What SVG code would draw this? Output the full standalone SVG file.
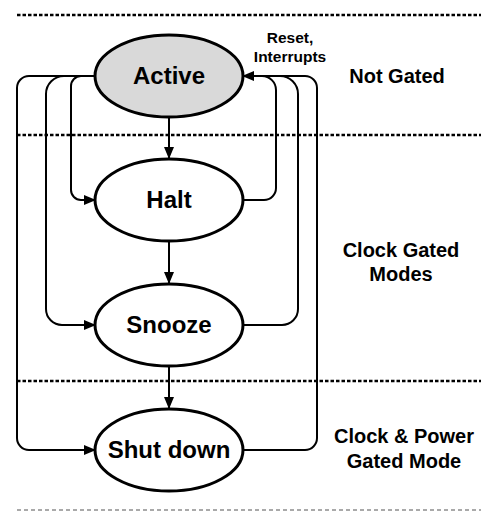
<svg xmlns="http://www.w3.org/2000/svg" width="481" height="513" viewBox="0 0 481 513">
  <style>
    .state { stroke: #000; stroke-width: 3; fill: #fff; }
    .state.active { fill: #d9d9d9; }
    .label { font-family: "Liberation Sans", Arial, sans-serif; font-weight: bold; fill: #000; text-anchor: middle; }
    .name { font-size: 24px; }
    .zone { font-size: 20px; }
    .note { font-size: 15.5px; }
    .wire { fill: none; stroke: #000; stroke-width: 2; }
    .sep { stroke: #000; stroke-width: 2.5; stroke-dasharray: 3.5 2; }
    .sep.end { stroke: #555; stroke-width: 1.2; stroke-dasharray: 4 3; }
  </style>
  <defs>
    <marker id="arrow" markerUnits="userSpaceOnUse" markerWidth="12" markerHeight="12" viewBox="0 0 12 12" refX="11" refY="6" orient="auto">
      <path d="M0,1 L12,6 L0,11 Z" fill="#000"/>
    </marker>
  </defs>

  <!-- zone separators -->
  <g id="separators">
    <line class="sep" x1="17" y1="15" x2="481" y2="15"/>
    <line class="sep" x1="17" y1="135" x2="481" y2="135"/>
    <line class="sep" x1="17" y1="381" x2="481" y2="381"/>
    <line class="sep end" x1="17" y1="510" x2="481" y2="510"/>
  </g>

  <!-- transitions -->
  <g id="connectors">
    <!-- Active -> lower states (left side) -->
    <path class="wire" d="M95,76 H29 A12,12 0 0 0 17,88 V438 A12,12 0 0 0 29,450 H95" marker-end="url(#arrow)"/>
    <path class="wire" d="M95,76 H64 A18,18 0 0 0 46,94 V309 A16,16 0 0 0 62,325 H95" marker-end="url(#arrow)"/>
    <path class="wire" d="M95,76 H81 A10,10 0 0 0 71,86 V190 A10,10 0 0 0 81,200 H95" marker-end="url(#arrow)"/>
    <!-- wake-up paths back to Active (right side) -->
    <path class="wire" d="M243,450 H305 A12,12 0 0 0 317,438 V88 A12,12 0 0 0 305,76 H255"/>
    <path class="wire" d="M243,325 H282 A16,16 0 0 0 298,309 V94 A18,18 0 0 0 280,76 H255"/>
    <path class="wire" d="M243,200 H264 A12,12 0 0 0 276,188 V90 A14,14 0 0 0 262,76 H243" marker-end="url(#arrow)"/>
    <!-- downward chain -->
    <line class="wire" x1="169" y1="117" x2="169" y2="158" marker-end="url(#arrow)"/>
    <line class="wire" x1="169" y1="241" x2="169" y2="283" marker-end="url(#arrow)"/>
    <line class="wire" x1="169" y1="366" x2="169" y2="408" marker-end="url(#arrow)"/>
  </g>

  <g id="active">
    <ellipse class="state active" cx="169" cy="76" rx="74" ry="41"/>
    <text class="label name" x="169" y="84">Active</text>
  </g>
  <g id="halt">
    <ellipse class="state" cx="169" cy="200" rx="74" ry="41"/>
    <text class="label name" x="169" y="208">Halt</text>
  </g>
  <g id="snooze">
    <ellipse class="state" cx="169" cy="325" rx="74" ry="41"/>
    <text class="label name" x="169" y="333">Snooze</text>
  </g>
  <g id="shutdown">
    <ellipse class="state" cx="169" cy="450" rx="74" ry="41"/>
    <text class="label name" x="169" y="458">Shut down</text>
  </g>

  <g id="wake-note">
    <text class="label note" x="290" y="43">Reset,</text>
    <text class="label note" x="290" y="62">Interrupts</text>
  </g>

  <g id="zone-labels">
    <text class="label zone" x="397" y="83">Not Gated</text>
    <text class="label zone" x="401" y="257">Clock Gated</text>
    <text class="label zone" x="401" y="281">Modes</text>
    <text class="label zone" x="404" y="443">Clock &amp; Power</text>
    <text class="label zone" x="404" y="468">Gated Mode</text>
  </g>
</svg>
